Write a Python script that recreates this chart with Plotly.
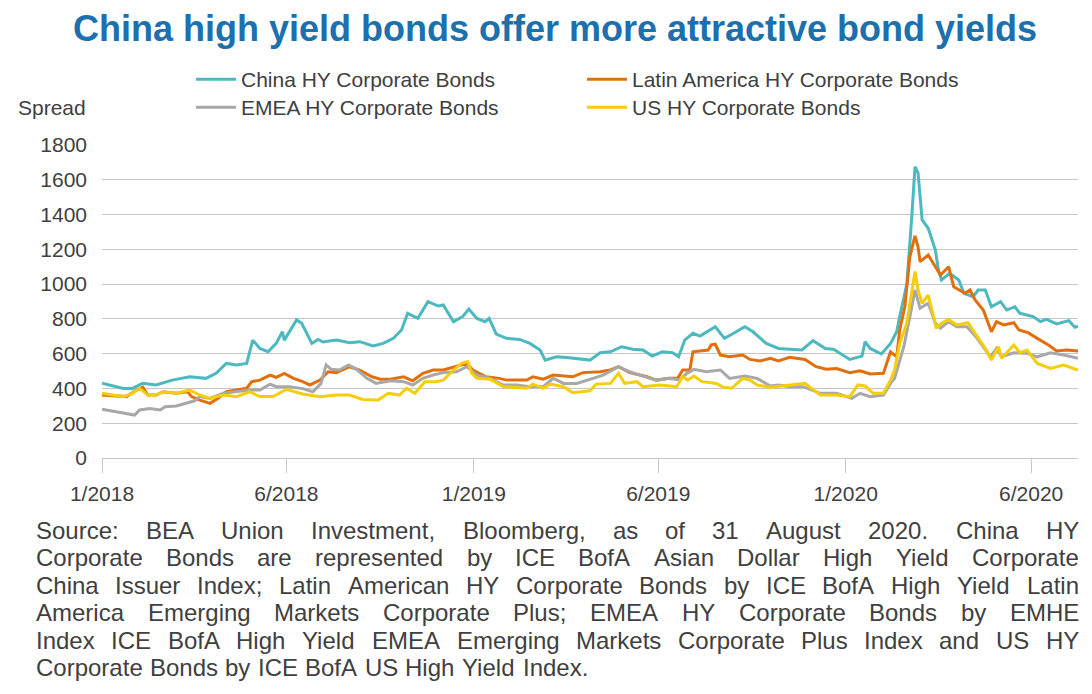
import plotly.graph_objects as go

# ---------------- data ----------------
china_dates = ["2018-01-01","2018-01-22","2018-01-31","2018-02-10","2018-02-23","2018-03-11","2018-03-28","2018-04-13","2018-04-23","2018-05-03",
               "2018-05-13","2018-05-23","2018-05-29","2018-06-05","2018-06-13","2018-06-21","2018-06-27","2018-06-29","2018-07-11","2018-07-16",
               "2018-07-26","2018-08-01","2018-08-06","2018-08-19","2018-09-01","2018-09-11","2018-09-24","2018-10-04","2018-10-14","2018-10-22",
               "2018-10-28","2018-11-07","2018-11-17","2018-11-27","2018-12-02","2018-12-12","2018-12-21","2018-12-27","2019-01-04","2019-01-12",
               "2019-01-16","2019-01-23","2019-02-02","2019-02-15","2019-02-25","2019-03-07","2019-03-12","2019-03-23","2019-04-02","2019-04-12",
               "2019-04-25","2019-05-05","2019-05-15","2019-05-26","2019-06-06","2019-06-16","2019-06-25","2019-07-05","2019-07-15","2019-07-21",
               "2019-07-27","2019-08-04","2019-08-11","2019-08-26","2019-09-04","2019-09-13","2019-09-24","2019-10-02","2019-10-15","2019-10-27",
               "2019-11-19","2019-11-30","2019-12-12","2019-12-20","2020-01-05","2020-01-17","2020-01-20","2020-01-25","2020-02-05","2020-02-14",
               "2020-02-20","2020-02-23","2020-03-01","2020-03-06","2020-03-09","2020-03-12","2020-03-16","2020-03-22","2020-03-29","2020-04-01",
               "2020-04-04","2020-04-12","2020-04-21","2020-04-26","2020-05-05","2020-05-10","2020-05-17","2020-05-23","2020-06-01","2020-06-07",
               "2020-06-15","2020-06-20","2020-07-03","2020-07-10","2020-07-16","2020-07-26","2020-08-07","2020-08-13","2020-08-16"]
china_values = [430,400,400,430,420,448,467,458,487,544,
                535,544,678,630,611,659,726,678,794,775,
                659,682,667,678,663,669,644,659,688,736,
                832,803,899,874,880,784,813,857,803,784,
                803,713,688,682,659,621,563,582,578,573,
                563,605,611,640,625,621,586,611,605,582,
                678,717,701,755,688,717,755,726,659,630,
                621,675,630,625,567,586,669,630,598,659,
                726,813,1000,1400,1675,1640,1369,1321,1196,1081,
                1024,1062,1024,947,928,966,966,870,899,851,
                870,832,813,784,797,771,790,752,759]

latam_dates = ["2018-01-01","2018-01-25","2018-02-04","2018-02-10","2018-02-15","2018-02-23","2018-03-02","2018-03-15","2018-03-26","2018-03-30",
               "2018-04-07","2018-04-17","2018-04-25","2018-05-03","2018-05-13","2018-05-23","2018-05-28","2018-06-05","2018-06-15","2018-06-21",
               "2018-06-29","2018-07-08","2018-07-17","2018-07-24","2018-08-03","2018-08-11","2018-08-19","2018-09-01","2018-09-11","2018-09-23",
               "2018-10-01","2018-10-11","2018-10-24","2018-11-02","2018-11-12","2018-11-22","2018-12-02","2018-12-15","2018-12-25","2018-12-31",
               "2019-01-13","2019-01-26","2019-02-02","2019-02-22","2019-02-28","2019-03-10","2019-03-20","2019-04-08","2019-04-18","2019-05-05",
               "2019-05-15","2019-05-23","2019-06-03","2019-06-20","2019-06-29","2019-07-12","2019-07-20","2019-07-25","2019-08-01","2019-08-04",
               "2019-08-11","2019-08-19","2019-08-22","2019-08-26","2019-08-31","2019-09-09","2019-09-22","2019-09-29","2019-10-09","2019-10-19",
               "2019-10-27","2019-11-07","2019-11-22","2019-12-03","2019-12-13","2019-12-23","2020-01-05","2020-01-15","2020-01-25","2020-02-07",
               "2020-02-14","2020-02-20","2020-02-23","2020-02-28","2020-03-04","2020-03-09","2020-03-12","2020-03-14","2020-03-22","2020-03-29",
               "2020-04-03","2020-04-11","2020-04-16","2020-04-27","2020-05-02","2020-05-07","2020-05-15","2020-05-23","2020-05-28","2020-06-04",
               "2020-06-14","2020-06-19","2020-06-28","2020-07-07","2020-07-18","2020-07-26","2020-08-05","2020-08-16"]
latam_values = [362,353,391,407,362,362,381,372,381,353,
                333,314,343,381,391,401,439,448,477,464,
                487,458,439,420,448,496,491,525,506,467,
                453,453,467,444,487,506,506,525,544,506,
                467,458,448,448,467,453,477,467,491,496,
                506,525,491,467,448,458,458,506,506,611,
                617,621,650,654,592,582,592,567,558,573,
                558,579,567,525,510,515,491,502,483,487,
                611,582,736,870,1158,1277,1215,1129,1167,1100,
                1052,1100,985,947,966,909,851,726,784,765,
                778,736,721,688,650,615,621,615]

emea_dates = ["2018-01-01","2018-01-22","2018-02-02","2018-02-07","2018-02-17","2018-02-27","2018-03-04","2018-03-15","2018-03-25","2018-04-02",
              "2018-04-07","2018-04-17","2018-04-30","2018-05-13","2018-05-26","2018-06-05","2018-06-15","2018-06-21","2018-07-04","2018-07-17",
              "2018-07-27","2018-08-04","2018-08-09","2018-08-14","2018-08-22","2018-08-31","2018-09-08","2018-09-18","2018-09-27","2018-10-11",
              "2018-10-24","2018-11-02","2018-11-12","2018-11-22","2018-12-02","2018-12-15","2018-12-25","2019-01-04","2019-01-17","2019-01-30",
              "2019-02-12","2019-02-25","2019-03-10","2019-03-20","2019-03-30","2019-04-12","2019-04-25","2019-05-08","2019-05-23","2019-06-03",
              "2019-06-16","2019-06-29","2019-07-12","2019-07-22","2019-07-29","2019-08-05","2019-08-17","2019-08-31","2019-09-09","2019-09-24",
              "2019-10-06","2019-10-19","2019-10-27","2019-11-07","2019-11-20","2019-12-07","2019-12-23","2020-01-07","2020-01-15","2020-01-25",
              "2020-02-07","2020-02-14","2020-02-18","2020-02-27","2020-03-04","2020-03-09","2020-03-14","2020-03-22","2020-03-29","2020-04-03",
              "2020-04-11","2020-04-19","2020-04-29","2020-05-09","2020-05-22","2020-05-28","2020-06-02","2020-06-14","2020-06-27","2020-07-07",
              "2020-07-20","2020-08-02","2020-08-16"]
emea_values = [280,261,247,276,285,276,295,299,318,329,
               353,343,372,381,391,391,425,410,410,399,
               381,429,535,510,506,535,510,458,429,444,
               439,420,458,477,491,496,525,477,458,420,
               420,410,410,458,429,429,453,477,525,496,
               471,448,458,448,487,510,496,506,458,471,
               458,414,420,410,410,372,372,343,372,353,
               362,429,458,640,813,966,861,890,775,746,
               784,755,755,688,582,630,582,605,602,582,
               605,592,573]

us_dates = ["2018-01-01","2018-01-22","2018-01-31","2018-02-07","2018-02-15","2018-02-23","2018-03-02","2018-03-15","2018-03-28","2018-04-07",
            "2018-04-17","2018-04-30","2018-05-13","2018-05-26","2018-06-05","2018-06-18","2018-07-01","2018-07-17","2018-08-03","2018-08-19",
            "2018-09-01","2018-09-14","2018-09-29","2018-10-09","2018-10-20","2018-10-27","2018-11-04","2018-11-14","2018-11-25","2018-12-02",
            "2018-12-12","2018-12-20","2018-12-26","2018-12-30","2019-01-04","2019-01-17","2019-01-30","2019-02-22","2019-02-28","2019-03-10",
            "2019-03-17","2019-03-30","2019-04-08","2019-04-25","2019-05-01","2019-05-15","2019-05-23","2019-05-29","2019-06-10","2019-06-16",
            "2019-07-03","2019-07-19","2019-07-25","2019-07-30","2019-08-05","2019-08-13","2019-08-27","2019-09-03","2019-09-11","2019-09-22",
            "2019-09-29","2019-10-06","2019-10-19","2019-11-07","2019-11-22","2019-12-07","2019-12-23","2020-01-05","2020-01-13","2020-01-20",
            "2020-01-28","2020-02-07","2020-02-14","2020-02-18","2020-02-23","2020-03-01","2020-03-09","2020-03-12","2020-03-16","2020-03-22",
            "2020-03-30","2020-04-04","2020-04-11","2020-04-19","2020-04-30","2020-05-09","2020-05-18","2020-05-23","2020-05-30","2020-06-02",
            "2020-06-14","2020-06-20","2020-06-27","2020-07-07","2020-07-20","2020-08-02","2020-08-16"]
us_values = [372,353,372,401,362,362,381,372,391,362,
             343,362,353,381,353,353,395,368,353,362,
             362,337,333,372,362,401,372,439,439,448,
             506,544,554,487,458,453,410,401,425,401,
             425,410,376,387,425,429,487,429,439,410,
             420,410,467,448,471,439,429,407,401,458,
             448,420,407,420,429,362,362,353,420,414,
             372,372,448,506,659,775,1072,966,890,937,
             746,775,797,765,778,699,621,563,640,573,
             650,605,621,544,515,535,506]

series_names = ["China HY Corporate Bonds", "Latin America HY Corporate Bonds",
                "EMEA HY Corporate Bonds", "US HY Corporate Bonds"]
tick_dates = ["2018-01-01", "2018-07-01", "2019-01-01", "2019-07-01", "2020-01-01", "2020-07-01"]
tick_labels = ["1/2018", "6/2018", "1/2019", "6/2019", "1/2020", "6/2020"]
y_ticks = list(range(0, 1801, 200))

title_text = "China high yield bonds offer more attractive bond yields"
source_lines = [
    "Source: BEA Union Investment, Bloomberg, as of 31 August 2020. China HY",
    "Corporate Bonds are represented by ICE BofA Asian Dollar High Yield Corporate",
    "China Issuer Index; Latin American HY Corporate Bonds by ICE BofA High Yield Latin",
    "America Emerging Markets Corporate Plus; EMEA HY Corporate Bonds by EMHE",
    "Index ICE BofA High Yield EMEA Emerging Markets Corporate Plus Index and US HY",
    "Corporate Bonds by ICE BofA US High Yield Index.",
]

# ---------------- styling ----------------
# the page body adds an 8px offset; positions below are in figure pixels
W, H = 1084, 686
ML, MR, MT, MB = 94, 14, 137, 236
PW, PH = W - ML - MR, H - MT - MB
FONT = "Liberation Sans, Arial, Helvetica, sans-serif"
TXT = "#404040"
colors = ["#4BB9BF", "#E36F0C", "#A8A8A8", "#F5CD0A"]
legend_ids = ["legend", "legend2", "legend3", "legend4"]
legend_pos = [(183, 51), (574, 51), (183, 79), (574, 79)]


def px_x(p):
    return (p - ML) / PW


def px_y(p):
    return (H - MB - p) / PH


fig = go.Figure()
all_series = [(china_dates, china_values), (latam_dates, latam_values),
              (emea_dates, emea_values), (us_dates, us_values)]
for (d, v), name, c, lg in zip(all_series, series_names, colors, legend_ids):
    fig.add_trace(go.Scatter(x=d, y=v, name=name, mode="lines",
                             line=dict(color=c, width=3), legend=lg))

legend_cfg = {}
for lg, (lx, ly) in zip(legend_ids, legend_pos):
    legend_cfg[lg] = dict(x=px_x(lx), y=px_y(ly), xanchor="left", yanchor="top",
                          orientation="v", font=dict(size=21, color=TXT),
                          bgcolor="rgba(0,0,0,0)", itemwidth=40, tracegroupgap=0)

fig.update_layout(
    width=W, height=H,
    margin=dict(l=ML, r=MR, t=MT, b=MB),
    paper_bgcolor="white", plot_bgcolor="white",
    font=dict(family=FONT, color=TXT, size=21),
    title=dict(text="<b>" + title_text + "</b>", x=547 / W, xanchor="center",
               y=1 - 20 / H, yanchor="middle", yref="container",
               font=dict(family=FONT, size=36, color="#1C70AE")),
    showlegend=True,
    xaxis=dict(type="date", range=["2018-01-01", "2020-08-16"],
               tickmode="array", tickvals=tick_dates, ticktext=tick_labels,
               ticks="outside", ticklen=14, tickcolor="#C6C6C6", tickwidth=1,
               showgrid=False, showline=True, linecolor="#C6C6C6", linewidth=1,
               zeroline=False, tickfont=dict(size=21, color=TXT),
               ticklabelstandoff=3),
    yaxis=dict(range=[0, 1800], tickmode="array", tickvals=y_ticks,
               showgrid=True, gridcolor="#C6C6C6", gridwidth=1,
               zeroline=False, showline=False, ticks="",
               tickfont=dict(size=21, color=TXT), ticklabelstandoff=14),
    **legend_cfg,
)

fig.add_annotation(text="Spread", xref="paper", yref="paper",
                   x=px_x(80), y=px_y(99), xanchor="right", yanchor="middle",
                   showarrow=False, font=dict(size=21, color=TXT))

# ---------------- justified source note ----------------
AW = {" ": 278, ",": 278, ".": 278, ":": 278, ";": 278}
for ch, w in zip("ABCDEFGHIJKLMNOPQRSTUVWXYZ",
                 [667,667,722,722,667,611,778,722,278,500,667,556,833,722,778,667,778,722,667,611,722,667,944,667,667,611]):
    AW[ch] = w
for ch, w in zip("abcdefghijklmnopqrstuvwxyz",
                 [556,556,500,556,556,278,556,556,222,222,500,222,833,556,556,556,556,333,500,278,556,500,722,500,500,500]):
    AW[ch] = w
for ch in "0123456789":
    AW[ch] = 556

SRC_FS = 24
SRC_L, SRC_R = 27, 1070
line_y = [522, 549.5, 577, 604, 632, 659]


def tw(s):
    return sum(AW.get(ch, 556) for ch in s) * SRC_FS / 1000


for i, (line, yc) in enumerate(zip(source_lines, line_y)):
    words = line.split(" ")
    widths = [tw(w) for w in words]
    if i < len(source_lines) - 1:
        gap = (SRC_R - SRC_L - sum(widths)) / (len(words) - 1)
    else:
        gap = tw(" ") * 1.1
    xpos = SRC_L
    for w, wd in zip(words, widths):
        fig.add_annotation(text=w, xref="paper", yref="paper",
                           x=px_x(xpos), y=px_y(yc), xanchor="left", yanchor="middle",
                           showarrow=False, borderpad=0,
                           font=dict(size=SRC_FS, color=TXT))
        xpos += wd + gap

fig.write_html("out.html")
